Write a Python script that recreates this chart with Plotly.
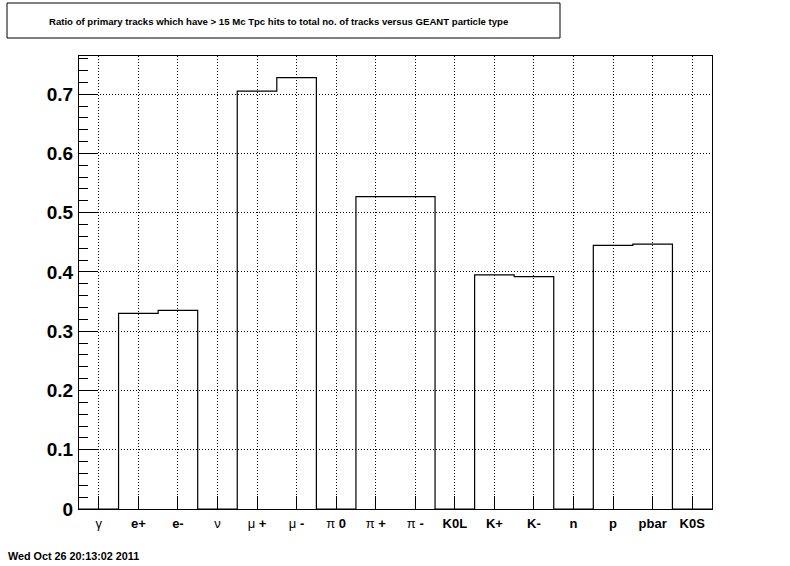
import plotly.graph_objects as go

# ---- data ----
categories = ["γ", "e+", "e-", "ν", "μ +", "μ -", "π 0", "π +", "π -",
              "K0L", "K+", "K-", "n", "p", "pbar", "K0S"]
ratios = [0.0, 0.330, 0.335, 0.0, 0.705, 0.728, 0.0, 0.527, 0.527,
          0.0, 0.395, 0.392, 0.0, 0.445, 0.447, 0.0]
greek = {"γ", "ν", "μ", "π"}
title_text = "Ratio of primary tracks which have > 15 Mc Tpc hits to total no. of tracks versus GEANT particle type"
date_text = "Wed Oct 26 20:13:02 2011"

# ---- layout geometry (pixels) ----
W, H = 790, 566
L, R, T, B = 79, 712, 56, 509
pw, ph = R - L, B - T


def px(x):
    return (x - L) / pw


def py(y):
    return (B - y) / ph


def fmt_label(s):
    out = ""
    for ch in s:
        if ch in greek:
            out += "<span style='font-weight:normal'>" + ch + "</span>"
        else:
            out += ch
    return out


n = len(categories)
edges = list(range(n + 1))
step_x = [edges[0]] + edges[:n] + [edges[n]]
step_y = [0.0] + ratios + [0.0]
centers = [i + 0.5 for i in range(n)]

fig = go.Figure()
fig.add_trace(go.Scatter(
    x=step_x, y=step_y, mode="lines", line_shape="hv",
    line=dict(color="black", width=1.2), hoverinfo="skip", showlegend=False,
))

ymax = max(ratios) * 1.05

font_family = "Liberation Sans, Arial, sans-serif"

fig.update_layout(
    width=W, height=H,
    margin=dict(l=L, r=W - R, t=T, b=H - B, pad=0),
    paper_bgcolor="white", plot_bgcolor="white",
    showlegend=False,
    font=dict(family=font_family, color="black"),
    xaxis=dict(
        range=[0, n], tickvals=centers,
        ticktext=[fmt_label(c) for c in categories],
        ticks="inside", ticklen=13, tickwidth=1, tickcolor="black",
        showline=True, linecolor="black", linewidth=1, mirror=True,
        showgrid=True, gridcolor="black", gridwidth=1, griddash="1px,2px",
        zeroline=False,
        tickfont=dict(size=13, weight="bold", family=font_family),
        ticklabelstandoff=2,
    ),
    yaxis=dict(
        range=[0, ymax], dtick=0.1, tick0=0,
        ticks="inside", ticklen=19, tickwidth=1, tickcolor="black",
        showline=True, linecolor="black", linewidth=1, mirror=True,
        showgrid=True, gridcolor="black", gridwidth=1, griddash="1px,2px",
        zeroline=False,
        tickfont=dict(size=19, weight="bold", family=font_family),
        ticklabelstandoff=1,
        minor=dict(dtick=0.02, ticks="inside", ticklen=9, tickcolor="black",
                   tickwidth=1, showgrid=False),
    ),
)

# title box
fig.add_shape(type="rect", xref="paper", yref="paper",
              x0=px(7), x1=px(560), y0=py(38), y1=py(3),
              line=dict(color="black", width=1), fillcolor="white", layer="above")
fig.add_annotation(xref="paper", yref="paper", x=px(278), y=py(21),
                   text="<b>" + title_text + "</b>", showarrow=False,
                   xanchor="center", yanchor="middle",
                   font=dict(size=9.6, family=font_family, color="black"))
# date stamp
fig.add_annotation(xref="paper", yref="paper", x=px(6), y=py(556),
                   text="<b>" + date_text + "</b>", showarrow=False,
                   xanchor="left", yanchor="middle",
                   font=dict(size=10.8, family=font_family, color="black"))

fig.write_html("out.html", config={"displayModeBar": False},
               post_script="document.body.style.margin='0';")
